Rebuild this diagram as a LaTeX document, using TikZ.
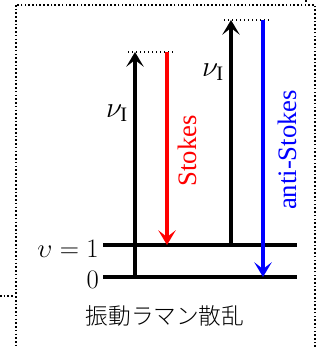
\RequirePackage{fix-cm}
\documentclass[tikz,border=0pt]{standalone}
\usepackage{fontspec}
\setmainfont{Liberation Serif}
\newfontfamily\jpfont{Noto Sans CJK JP}[UprightFont=* Light]
\usetikzlibrary{positioning,arrows.meta}
\begin{document}
\begin{tikzpicture}[x=0.75pt,y=-0.75pt,line join=round,>={Stealth[length=11pt,width=13pt,inset=5pt]},
  level/.style={line width=2.6pt},
  photon/.style={line width=2.6pt,->},
  virt/.style={line width=1pt,dash pattern=on 1pt off 2pt},
  frame/.style={line width=1.2pt,dash pattern=on 1.2pt off 1.6pt},
  freq/.style={font=\fontsize{22}{26}\selectfont,inner sep=0pt},
  quant/.style={font=\fontsize{20}{24}\selectfont,anchor=east,inner sep=0pt}]
 			\tikzset{every node/.style={font=\fontsize{17}{20}\selectfont}}
 			\useasboundingbox (0,0) rectangle (322,347);
 			\clip (0,0) rectangle (322,347);
 			% frames
 			\draw[frame] (16,5) rectangle (315,370);
 			\draw[frame] (0,296) -- (14,296);
 			\draw[frame] (306,0) -- (306,2);
 			% levels
 			\coordinate (v0L) at (103,277);
 			\coordinate (v0R) at (297,277);
 			\coordinate (v1L) at (103,245);
 			\coordinate (v1R) at (297,245);
 			\draw[level] (v0L)--(v0R);
 			\draw[level] (v1L)--(v1R);
 			\node[quant] (lv1) at (99,248.5) {$\upsilon = 1$};
 			\node[quant] (lv0) at (99,279.5) {$0$};
 			% virtual states
 			\coordinate (s1) at (135,52);
 			\coordinate (s2) at (231,20);
 			\draw[virt] (128,52)--(173,52);
 			\draw[virt] (224,20)--(270,20);
 			% transitions
 			\draw[photon] (135,277) -- (s1);
 			\draw[photon,red] (167,52) -- (167,245);
 			\draw[photon] (231,245) -- (s2);
 			\draw[photon,blue] (263,20) -- (263,277);
 			\node[freq] (nu1) at (117,113) {$\nu_{\mathrm{I}}$};
 			\node[freq] (nu2) at (213,72) {$\nu_{\mathrm{I}}$};
 			\node[rotate=90,red,font=\fontsize{20}{24}\selectfont] (st) at (187,151) {Stokes};
 			\node[rotate=90,blue,font=\fontsize{20}{24}\selectfont] (ast) at (287,150) {anti-Stokes};
 			\node (ttl) at (165,316) {\jpfont 振動ラマン散乱};
 		\end{tikzpicture}
\end{document}
